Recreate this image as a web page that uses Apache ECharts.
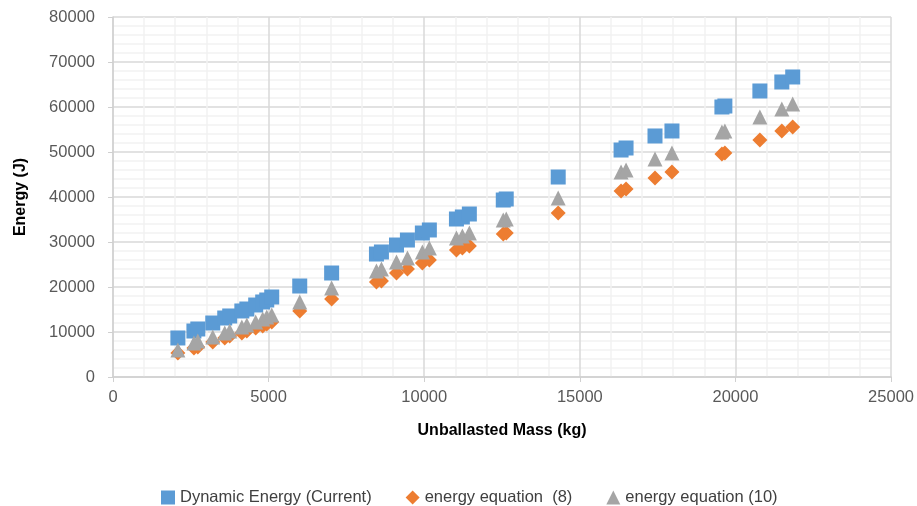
<!DOCTYPE html>
<html>
<head>
<meta charset="utf-8">
<script src="https://cdn.jsdelivr.net/npm/echarts@6/dist/echarts.min.js"></script>
<style>
  html, body { margin: 0; padding: 0; background: #fff; }
  #chart { width: 917px; height: 506px; }
</style>
</head>
<body>
<div id="chart"></div>
<script>
// unballasted mass (kg)
var mass = [2085, 2600, 2725, 3205, 3590, 3750, 4140, 4300, 4585, 4810, 4940, 5100,
  6000, 7025, 8465, 8625, 9110, 9460, 9940, 10165, 11035, 11225, 11450, 12540, 12635,
  14305, 16325, 16485, 17415, 17960, 19565, 19660, 20785, 21490, 21840];
// energy (J)
var dynamicEnergy = [8670, 10220, 10670, 12000, 13110, 13560, 14670, 15110, 16000, 16670, 17110, 17780,
  20220, 23110, 27330, 27780, 29330, 30440, 32000, 32670, 35110, 35560, 36220, 39330, 39560,
  44440, 50440, 50890, 53560, 54670, 60000, 60220, 63560, 65560, 66670];
var energyEq8 = [5330, 6440, 6670, 7780, 8670, 9110, 9780, 10220, 10890, 11330, 11780, 12220,
  14670, 17330, 21110, 21330, 23110, 24000, 25330, 26000, 28220, 28670, 29110, 31780, 32000,
  36440, 41330, 41780, 44220, 45560, 49560, 49780, 52670, 54670, 55560];
var energyEq10 = [6000, 7560, 8000, 8890, 9780, 10220, 11110, 11560, 12220, 12890, 13330, 13780,
  16670, 19780, 23560, 24000, 25560, 26440, 27780, 28670, 30890, 31330, 32000, 34890, 35110,
  39780, 45560, 46000, 48440, 49780, 54440, 54670, 57780, 59560, 60670];
var seriesNames = ['Dynamic Energy (Current)', 'energy equation  (8)', 'energy equation (10)'];

function pairs(ys) {
  return mass.map(function (m, i) { return [m, ys[i]]; });
}

var chart = echarts.init(document.getElementById('chart'));
var font = 'Liberation Sans';
var labelStyle = { color: '#595959', fontSize: 16.5, fontFamily: font, formatter: function (v) { return String(v); } };

chart.setOption({
  animation: false,
  color: ['#5b9bd5', '#ed7d31', '#a5a5a5'],
  textStyle: { fontFamily: font },
  grid: { left: 113, right: 25, top: 17, bottom: 129 },
  legend: {
    left: 156, top: 484,
    itemWidth: 14, itemHeight: 14, itemGap: 34,
    textStyle: { color: '#404040', fontSize: 16.5, fontFamily: font },
    data: [
      { name: seriesNames[0], icon: 'rect' },
      { name: seriesNames[1], icon: 'diamond' },
      { name: seriesNames[2], icon: 'triangle' }
    ]
  },
  xAxis: {
    type: 'value', min: 0, max: 25000, interval: 5000,
    name: 'Unballasted Mass (kg)', nameLocation: 'middle', nameGap: 46,
    nameTextStyle: { color: '#000', fontSize: 16, fontWeight: 'bold', fontFamily: font },
    axisLine: { show: true, lineStyle: { color: '#d0d0d0', width: 1.5 } },
    axisTick: { show: true, length: 5, lineStyle: { color: '#d0d0d0' } },
    axisLabel: Object.assign({ margin: 12 }, labelStyle),
    splitLine: { lineStyle: { color: '#d9d9d9', width: 1.5 } },
    minorTick: { show: false, splitNumber: 5 },
    minorSplitLine: { show: true, lineStyle: { color: '#f2f2f2', width: 1.5 } }
  },
  yAxis: {
    type: 'value', min: 0, max: 80000, interval: 10000,
    name: 'Energy (J)', nameLocation: 'middle', nameGap: 84,
    nameTextStyle: { color: '#000', fontSize: 16, fontWeight: 'bold', fontFamily: font },
    axisLine: { show: true, lineStyle: { color: '#d0d0d0', width: 1.5 } },
    axisTick: { show: true, length: 5, lineStyle: { color: '#d0d0d0' } },
    axisLabel: Object.assign({ margin: 18 }, labelStyle),
    splitLine: { lineStyle: { color: '#d9d9d9', width: 1.5 } },
    minorTick: { show: false, splitNumber: 5 },
    minorSplitLine: { show: true, lineStyle: { color: '#f2f2f2', width: 1.5 } }
  },
  series: [
    { name: seriesNames[0], type: 'scatter', symbol: 'rect', symbolSize: 15, itemStyle: { opacity: 1 }, data: pairs(dynamicEnergy) },
    { name: seriesNames[1], type: 'scatter', symbol: 'diamond', symbolSize: 15, itemStyle: { opacity: 1 }, data: pairs(energyEq8) },
    { name: seriesNames[2], type: 'scatter', symbol: 'triangle', symbolSize: 15, itemStyle: { opacity: 1 }, data: pairs(energyEq10) }
  ]
});
</script>
</body>
</html>
